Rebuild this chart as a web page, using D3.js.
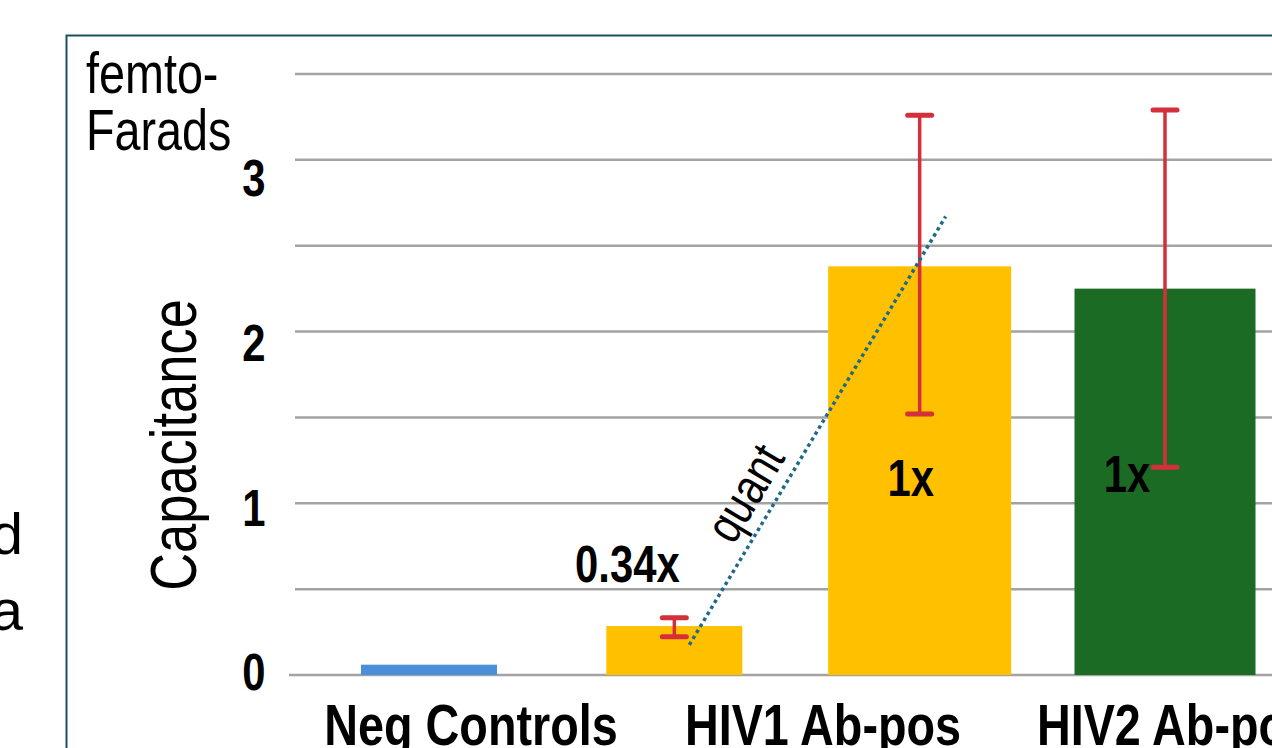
<!DOCTYPE html>
<html>
<head>
<meta charset="utf-8">
<script src="https://cdn.jsdelivr.net/npm/d3@7"></script>
<style>
  body { margin: 0; background: #fff; }
  svg { display: block; font-family: "Liberation Sans", Arial, sans-serif; }
</style>
</head>
<body>
<script>
// values
const bars = ["Neg Controls", "HIV1 low", "HIV1 high", "HIV2"];
const barValues = [0.06, 0.285, 2.38, 2.25];
const errLow = [null, 0.223, 1.52, 1.21];
const errHigh = [null, 0.333, 3.26, 3.29];
const ratioLabels = ["", "0.34x", "1x", "1x"];
const categories = ["Neg Controls", "HIV1 Ab-pos", "HIV2 Ab-pos"];
const yTicks = [0, 1, 2, 3];
const gridValues = [0, 0.5, 1, 1.5, 2, 2.5, 3, 3.5];

// styles
const barColors = ["#4a8fd8", "#ffc000", "#ffc000", "#1c6b25"];
const barWidths = [136, 136, 183, 181];
const errColor = "#d42f3a";
const narrow = 0.82; // no narrow font installed, squeeze horizontally

const W = 1272, H = 748;
const svg = d3.select("body").append("svg")
  .attr("width", W).attr("height", H);

// place a squeezed text at (x, y), optionally rotated
function ntext(g, x, y, rot) {
  return g.append("text")
    .attr("transform", `translate(${x},${y})` + (rot ? ` rotate(${rot})` : "") + ` scale(${narrow},1)`);
}

// slide frame
svg.append("rect")
  .attr("x", 66.5).attr("y", 35.5)
  .attr("width", W).attr("height", H)
  .attr("fill", "none").attr("stroke", "#1d4f63").attr("stroke-width", 2);

// cut-off text at the left edge of the slide
["d", "a"].forEach((t, i) => {
  svg.append("text")
    .attr("x", 23).attr("y", 554 + i * 76)
    .attr("text-anchor", "end")
    .style("font-size", "58px")
    .text(t);
});

const y = d3.scaleLinear().domain([0, 3.5]).range([675, 74]);
const yLab = d3.scaleLinear().domain([0, 3]).range([672, 178]);
const x = d3.scalePoint().domain(bars).range([429, 1165]);
const xCat = d3.scalePoint().domain(categories).range([471, 1175]);

// gridlines
svg.append("g").selectAll("line").data(gridValues).join("line")
  .attr("x1", d => d === 0 ? 289 : 295).attr("x2", W)
  .attr("y1", d => y(d)).attr("y2", d => y(d))
  .attr("stroke", "#a3a3a3").attr("stroke-width", 2.5);

// bars
svg.append("g").selectAll("rect").data(bars).join("rect")
  .attr("x", (d, i) => x(d) - barWidths[i] / 2)
  .attr("width", (d, i) => barWidths[i])
  .attr("y", (d, i) => y(barValues[i]))
  .attr("height", (d, i) => y(0) - y(barValues[i]))
  .attr("fill", (d, i) => barColors[i]);

// error bars
const eb = svg.append("g")
  .selectAll("g").data(bars.filter((d, i) => errLow[i] != null)).join("g")
  .attr("stroke", errColor).attr("stroke-width", 3.5);
eb.append("line")
  .attr("x1", d => x(d)).attr("x2", d => x(d))
  .attr("y1", d => y(errLow[bars.indexOf(d)]))
  .attr("y2", d => y(errHigh[bars.indexOf(d)]));
eb.selectAll("line.cap")
  .data(d => [errLow, errHigh].map(a => ({ b: d, v: a[bars.indexOf(d)] })))
  .join("line").attr("class", "cap")
  .attr("stroke-width", 5).attr("stroke-linecap", "round")
  .attr("x1", d => x(d.b) - 12).attr("x2", d => x(d.b) + 12)
  .attr("y1", d => y(d.v)).attr("y2", d => y(d.v));

// dotted "quant" line from the low HIV1 bar towards the high one
const qStart = [x("HIV1 low") + 15, y(0.175)];
const qEnd = [x("HIV1 high") + 26, y(2.67)];
svg.append("line")
  .attr("x1", qStart[0]).attr("y1", qStart[1])
  .attr("x2", qEnd[0]).attr("y2", qEnd[1])
  .attr("stroke", "#1e6a8a").attr("stroke-width", 3.5)
  .attr("stroke-dasharray", "3.5 3.5");

const ang = Math.atan2(qEnd[1] - qStart[1], qEnd[0] - qStart[0]) * 180 / Math.PI;
ntext(svg, 747, 494, ang)
  .attr("text-anchor", "middle").attr("dy", "0.3em")
  .style("font-size", "50px")
  .text("quant");

// ratio labels
const ratioDx = [0, -47, -9, -38];
const ratioVals = [0, 0.54, 1.04, 1.066];
bars.forEach((b, i) => {
  if (!ratioLabels[i]) return;
  ntext(svg, x(b) + ratioDx[i], y(ratioVals[i]))
    .attr("text-anchor", "middle")
    .style("font-size", "51px").style("font-weight", "bold")
    .text(ratioLabels[i]);
});

// y tick labels
yTicks.forEach(t => {
  ntext(svg, 254, yLab(t))
    .attr("dy", "0.36em").attr("text-anchor", "middle")
    .style("font-size", "51px").style("font-weight", "bold")
    .text(t);
});

// axis titles
ntext(svg, 196, 445, -90)
  .attr("text-anchor", "middle")
  .style("font-size", "64px")
  .text("Capacitance");

["femto-", "Farads"].forEach((t, i) => {
  ntext(svg, 86, 93 + i * 57)
    .style("font-size", "57px")
    .text(t);
});

// category labels
categories.forEach(c => {
  ntext(svg, xCat(c), 745)
    .attr("text-anchor", "middle")
    .style("font-size", "57px").style("font-weight", "bold")
    .text(c);
});
</script>
</body>
</html>
